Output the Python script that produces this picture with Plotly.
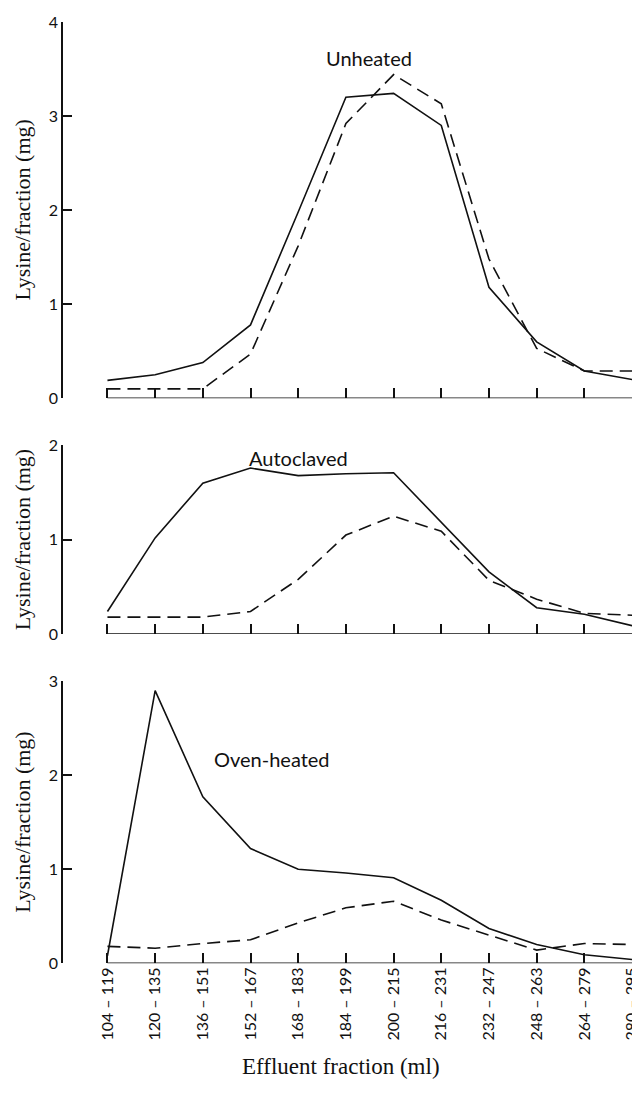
import plotly.graph_objects as go

fractions = ["104 – 119", "120 – 135", "136 – 151", "152 – 167", "168 – 183", "184 – 199",
             "200 – 215", "216 – 231", "232 – 247", "248 – 263", "264 – 279", "280 – 295"]

unheated_solid = [0.19, 0.25, 0.38, 0.78, 1.98, 3.20, 3.24, 2.90, 1.18, 0.60, 0.29, 0.20]
unheated_dashed = [0.10, 0.10, 0.10, 0.47, 1.62, 2.92, 3.44, 3.13, 1.48, 0.53, 0.29, 0.29]

autoclaved_solid = [0.24, 1.02, 1.60, 1.76, 1.68, 1.70, 1.71, 1.19, 0.66, 0.28, 0.21, 0.09]
autoclaved_dashed = [0.18, 0.18, 0.18, 0.24, 0.58, 1.05, 1.25, 1.09, 0.57, 0.37, 0.22, 0.20]

oven_solid = [0.08, 2.90, 1.77, 1.22, 1.00, 0.96, 0.91, 0.67, 0.37, 0.20, 0.09, 0.04]
oven_dashed = [0.18, 0.16, 0.21, 0.25, 0.43, 0.59, 0.66, 0.46, 0.30, 0.14, 0.21, 0.20]

panels = [
    ("Unheated", unheated_solid, unheated_dashed, 4, 5.48, 3.62),
    ("Autoclaved", autoclaved_solid, autoclaved_dashed, 2, 4.0, 1.87),
    ("Oven-heated", oven_solid, oven_dashed, 3, 3.45, 2.17),
]

# page has an 8px body margin, so the figure is sized to fit the window
W, H = 632, 1092
pix = [(4, 387), (435, 627), (675, 962)]   # (top, bottom) of each panel in figure pixels
left_px = 55

idx = list(range(len(fractions)))
xrange_ = [-0.932, 11.02]

fig = go.Figure()
sans = "Lato, 'Open Sans', sans-serif"
serif = "'Liberation Serif', 'DejaVu Serif', serif"

for i, (name, solid, dashed, ymax, ax_x, ax_y) in enumerate(panels):
    n = i + 1
    xa = "x" if n == 1 else f"x{n}"
    ya = "y" if n == 1 else f"y{n}"
    fig.add_trace(go.Scatter(x=idx, y=solid, mode="lines", xaxis=xa, yaxis=ya,
                             line=dict(color="#111", width=1.6), showlegend=False))
    fig.add_trace(go.Scatter(x=idx, y=dashed, mode="lines", xaxis=xa, yaxis=ya,
                             line=dict(color="#111", width=1.6, dash="13px,7px"), showlegend=False))
    top, bot = pix[i]
    dom = [1 - bot / H, 1 - top / H]
    xkey = "xaxis" if n == 1 else f"xaxis{n}"
    ykey = "yaxis" if n == 1 else f"yaxis{n}"
    fig.update_layout({
        xkey: dict(domain=[0, 1], range=xrange_, anchor=ya, showline=False, zeroline=False,
                   showgrid=False, ticks="inside", ticklen=10, tickwidth=1.5, tickcolor="#111",
                   tickmode="array", tickvals=idx, ticktext=fractions,
                   showticklabels=(n == 3), tickangle=-90, ticklabeloverflow="allow",
                   tickfont=dict(family=sans, size=16, color="#111")),
        ykey: dict(domain=dom, range=[0, ymax], anchor=xa, showline=True, linecolor="#111",
                   linewidth=1.5, zeroline=False, showgrid=False, ticks="inside", ticklen=9,
                   tickwidth=1.5, tickcolor="#111", tickmode="array",
                   tickvals=list(range(ymax + 1)), ticktext=[str(v) for v in range(ymax + 1)],
                   tickfont=dict(family=sans, size=16, color="#111")),
    })
    fig.add_shape(type="line", xref=xa, yref=ya, x0=idx[0], x1=idx[-1], y0=0, y1=0,
                  line=dict(color="#111", width=1.5))
    fig.add_annotation(x=ax_x, y=ax_y, xref=xa, yref=ya, text=name, showarrow=False,
                       font=dict(family=sans, size=20, color="#111"))
    fig.add_annotation(x=(14 - left_px) / (W - left_px), y=1 - (top + bot) / 2 / H,
                       xref="paper", yref="paper", text="Lysine/fraction (mg)", showarrow=False,
                       textangle=-90, xanchor="center", yanchor="middle",
                       font=dict(family=serif, size=22, color="#111"))

fig.add_annotation(x=(336 - left_px) / (W - left_px), y=1 - 1082 / H, xref="paper", yref="paper",
                   text="Effluent fraction (ml)", showarrow=False,
                   font=dict(family=serif, size=23, color="#111"))

fig.update_layout(width=W, height=H, margin=dict(l=left_px, r=0, t=0, b=0),
                  paper_bgcolor="white", plot_bgcolor="white")

fig.write_html("out.html")
